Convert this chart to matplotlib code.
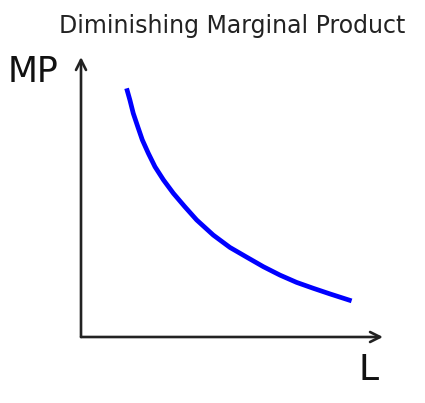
import matplotlib
matplotlib.use("Agg")
import matplotlib.pyplot as plt

# points (L, MP), axes run 0..10 on both sides
L_vals = [1.51, 1.62, 1.73, 1.88, 2.03, 2.23, 2.45, 2.73, 3.06, 3.44,
          3.83, 4.38, 4.93, 5.49, 6.04, 6.59, 7.14, 7.69, 8.24, 8.96]
MP_vals = [8.88, 8.46, 7.99, 7.51, 7.04, 6.56, 6.08, 5.61, 5.13, 4.65,
           4.18, 3.64, 3.20, 2.85, 2.51, 2.21, 1.95, 1.74, 1.54, 1.29]

title = "Diminishing Marginal Product"
xlab = "L"
ylab = "MP"

fig = plt.figure(figsize=(4.25, 4.03), dpi=100)
ax = fig.add_axes([81/425, 66/403, 302/425, 280/403])
ax.set_xlim(0, 10)
ax.set_ylim(0, 10)
ax.axis('off')

ax.plot(L_vals, MP_vals, color='#0000ff', lw=3.4, solid_capstyle='butt',
        solid_joinstyle='round')

arrow = dict(arrowstyle='->', lw=1.9, color='#222222', mutation_scale=18,
             shrinkA=0, shrinkB=0)
ax.annotate('', xy=(10, 0), xytext=(0, 0), arrowprops=arrow, annotation_clip=False)
ax.annotate('', xy=(0, 10), xytext=(0, 0), arrowprops=arrow, annotation_clip=False)

fig.text(232/425, 1 - 33/403, title, ha='center', va='baseline',
         fontsize=17, color='#222222')
fig.text(8/425, 1 - 82/403, ylab, ha='left', va='baseline',
         fontsize=25, color='#111111')
fig.text(359/425, 1 - 380/403, xlab, ha='left', va='baseline',
         fontsize=26, color='#111111')

fig.savefig('out.png', dpi=100, facecolor='white')
